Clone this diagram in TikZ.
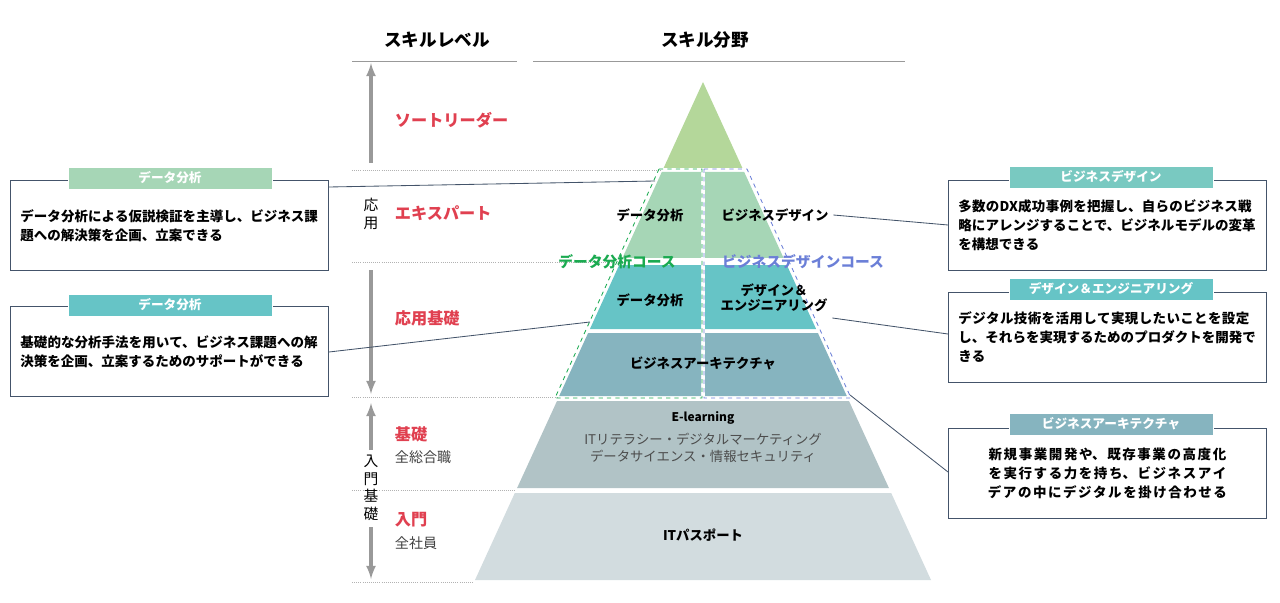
\documentclass[tikz,border=0pt]{standalone}
\usepackage{fontspec}
\setmainfont{Noto Sans CJK JP}
\XeTeXlinebreaklocale "ja"
\XeTeXlinebreakskip=0pt plus 1pt
\usetikzlibrary{positioning}
\definecolor{apexgreen}{HTML}{B4D79A}
\definecolor{expgreen}{HTML}{A6D6B6}
\definecolor{oyoteal}{HTML}{66C4C6}
\definecolor{archblue}{HTML}{86B4BF}
\definecolor{kisogray}{HTML}{B1C3C6}
\definecolor{nyugray}{HTML}{D2DCDF}
\definecolor{lvred}{HTML}{E04050}
\definecolor{coursegreen}{HTML}{1AAA50}
\definecolor{courseblue}{HTML}{6B7FD7}
\definecolor{linegray}{HTML}{44546A}
\tikzset{
  header/.style={font=\bfseries\fontsize{12.5}{14}\selectfont},
  level/.style={text=lvred,font=\bfseries\fontsize{11.5}{13}\selectfont,anchor=west},
  sub/.style={text=black!75,font=\fontsize{10}{12}\selectfont,anchor=west},
  cell/.style={font=\bfseries\fontsize{9.5}{11}\selectfont,align=center},
  vlabel/.style={align=center,font=\fontsize{10.5}{12.5}\selectfont,inner sep=1pt},
  infobox/.style={draw=linegray,line width=0.6pt,fill=white,minimum width=7.95cm,
    minimum height=2.25cm,text width=7.45cm,align=left,
    font=\bfseries\fontsize{9.6}{13.5}\selectfont,anchor=north west},
  tab/.style={fill=#1,draw=white,minimum width=5.1cm,minimum height=0.55cm,
    text=white,font=\bfseries\fontsize{9}{10}\selectfont},
  callout/.style={draw=linegray,line width=0.6pt},
  guide/.style={draw=black!30,densely dotted,line width=0.5pt},
  lvarrow/.style={draw=black!40,line width=2.2pt,-latex}
}
\begin{document}
\begin{tikzpicture}[x=0.025cm,y=-0.025cm]
  \useasboundingbox (0,0) rectangle (1280,603);
  % headers
  \node[header] (hlevel) at (437,40) {スキルレベル};
  \node[header] (hfield) at (705,40) {スキル分野};
  \draw[black!40,line width=0.6pt] (352,61) -- (517,61);
  \draw[black!40,line width=0.6pt] (533,61) -- (905,61);
  % guide lines
  \foreach \yy/\xx in {170/662, 262/620, 397/558, 490/516, 582/474}
    \draw[guide] (352,\yy) -- (\xx,\yy);
  % pyramid bands
  \fill[apexgreen] (703,82) -- (742.4,168) -- (663.6,168) -- cycle;
  \fill[expgreen] (661.8,172) -- (701,172) -- (701,258) -- (622.4,258) -- cycle;
  \fill[expgreen] (705,172) -- (744.2,172) -- (783.6,258) -- (705,258) -- cycle;
  \fill[oyoteal] (619.2,265) -- (701,265) -- (701,329) -- (589.9,329) -- cycle;
  \fill[oyoteal] (705,265) -- (786.8,265) -- (816.1,329) -- (705,329) -- cycle;
  \fill[archblue] (588.1,333) -- (701,333) -- (701,396) -- (559.2,396) -- cycle;
  \fill[archblue] (705,333) -- (817.9,333) -- (846.8,396) -- (705,396) -- cycle;
  \fill[kisogray] (557,401) -- (849,401) -- (888.9,488) -- (517.1,488) -- cycle;
  \fill[nyugray] (514.8,493) -- (891.2,493) -- (931,580) -- (475,580) -- cycle;
  % course outlines
  \draw[coursegreen,dashed,line width=0.6pt] (659,169) -- (702,169) -- (702,398) -- (555,398) -- cycle;
  \draw[courseblue,dashed,line width=0.6pt] (704,169) -- (747,169) -- (851,398) -- (704,398) -- cycle;
  % cell texts
  \node[cell] (cda1) at (650,215) {データ分析};
  \node[cell] (cbd) at (775,215) {ビジネスデザイン};
  \node[cell] (cda2) at (650,300) {データ分析};
  \node[cell] (cde) at (774,298) {デザイン＆\\エンジニアリング};
  \node[cell] (cba) at (703,363) {ビジネスアーキテクチャ};
  \node[cell,font=\bfseries\fontsize{8.5}{10}\selectfont] (cel) at (703,418) {E-learning};
  \node[align=center,text=black!70,font=\fontsize{9.5}{12}\selectfont] (cit) at (703,448)
    {ITリテラシー・デジタルマーケティング\\データサイエンス・情報セキュリティ};
  \node[cell] (cip) at (703,535) {ITパスポート};
  \node[text=coursegreen,font=\bfseries\fontsize{10.5}{11}\selectfont] (kda) at (617,262) {データ分析コース};
  \node[text=courseblue,font=\bfseries\fontsize{10.5}{11}\selectfont] (kbd) at (803,262) {ビジネスデザインコース};
  % level labels
  \node[level] (lthought) at (390,120) {ソートリーダー};
  \node[level] (lexpert) at (390,213) {エキスパート};
  \node[level] (loyokiso) at (390,318) {応用基礎};
  \node[level] (lkiso) at (390,434) {基礎};
  \node[sub] (skiso) at (390,457) {全総合職};
  \node[level] (lnyu) at (390,520) {入門};
  \node[sub] (snyu) at (390,543) {全社員};
  % level arrows
  \node[vlabel] (voyo) at (371,214) {応\\用};
  \node[vlabel] (vnyu) at (371,488) {入\\門\\基\\礎};
  \draw[lvarrow] (371,163) -- (371,63);
  \draw[lvarrow] (371,270) -- (371,394);
  \draw[lvarrow] (371,450) -- (371,403);
  \draw[lvarrow] (371,527) -- (371,579);
  % info boxes
  \node[infobox] (bda1) at (10,180) {データ分析による仮説検証を主導し、ビジネス課題への解決策を企画、立案できる};
  \node[tab=expgreen] (tda1) at (170,178) {データ分析};
  \node[infobox] (bda2) at (10,306) {基礎的な分析手法を用いて、ビジネス課題への解決策を企画、立案するためのサポートができる};
  \node[tab=oyoteal] (tda2) at (170,305) {データ分析};
  \node[infobox] (bbd) at (948,180) {多数のDX成功事例を把握し、自らのビジネス戦略にアレンジすることで、ビジネルモデルの変革を構想できる};
  \node[tab=oyoteal!70!expgreen] (tbd) at (1111,177) {ビジネスデザイン};
  \node[infobox] (bde) at (948,292) {デジタル技術を活用して実現したいことを設定し、それらを実現するためのプロダクトを開発できる};
  \node[tab=oyoteal] (tde) at (1111,289) {デザイン＆エンジニアリング};
  \node[infobox,align=center] (bba) at (948,428) {新規事業開発や、既存事業の高度化を実行する力を持ち、ビジネスアイデアの中にデジタルを掛け合わせる};
  \node[tab=archblue] (tba) at (1111,424) {ビジネスアーキテクチャ};
  % callouts
  \coordinate (pda1) at (655,181);
  \coordinate (pda2) at (590,322);
  \coordinate (pba) at (850,395);
  \draw[callout] (bda1.east |- 0,187) -- (pda1);
  \draw[callout] (bda2.east |- 0,352) -- (pda2);
  \draw[callout] (cbd.east) -- (bbd.west |- 0,225);
  \draw[callout] (cde.east |- 0,318) -- (bde.west |- 0,334);
  \draw[callout] (pba) -- (bba.west |- 0,472);
\end{tikzpicture}
\end{document}
